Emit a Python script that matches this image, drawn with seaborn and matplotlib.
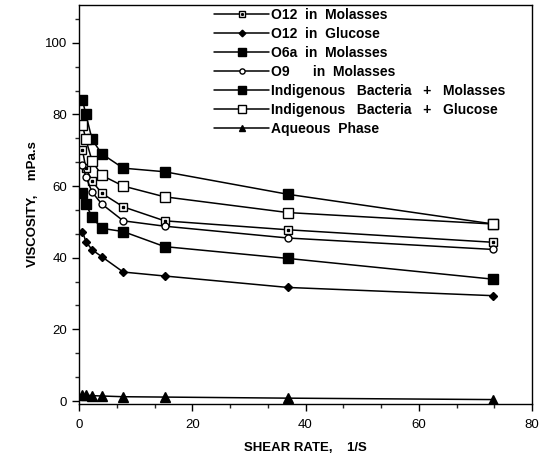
import numpy as np
import pandas as pd
import matplotlib
matplotlib.use("Agg")
import matplotlib.pyplot as plt
from matplotlib.ticker import MultipleLocator
from matplotlib.legend_handler import HandlerTuple
import seaborn as sns

# shear rate (1/S) and viscosity (mPa.s)
shear = [0.6, 1.2, 2.3, 4.0, 7.8, 15.1, 36.9, 73.2]

o12_molasses = [70.0, 65.0, 61.4, 58.0, 54.2, 50.3, 47.8, 44.3]
o12_glucose = [47.3, 44.5, 42.2, 40.3, 36.0, 34.9, 31.7, 29.4]
o6a_molasses = [58.2, 55.0, 51.3, 48.2, 47.3, 43.1, 39.8, 34.0]
o9_molasses = [66.0, 62.6, 58.3, 55.0, 50.3, 48.8, 45.5, 42.3]
indig_molasses = [84.0, 80.0, 73.0, 69.0, 65.0, 64.0, 57.7, 49.4]
indig_glucose = [77.0, 73.0, 67.0, 63.0, 60.0, 57.0, 52.6, 49.4]
aqueous = [1.8, 1.6, 1.5, 1.4, 1.2, 1.1, 0.8, 0.4]

labels = ["O12  in  Molasses", "O12  in  Glucose", "O6a  in  Molasses",
          "O9      in  Molasses", "Indigenous   Bacteria   +   Molasses",
          "Indigenous   Bacteria   +   Glucose", "Aqueous  Phase"]
series = [o12_molasses, o12_glucose, o6a_molasses, o9_molasses,
          indig_molasses, indig_glucose, aqueous]
styles = [dict(marker="s", ms=6, mfc="white"),
          dict(marker="D", ms=4.5, mfc="black"),
          dict(marker="s", ms=7, mfc="black"),
          dict(marker="o", ms=5, mfc="white"),
          dict(marker="s", ms=7, mfc="black"),
          dict(marker="s", ms=7, mfc="white"),
          dict(marker="^", ms=6.5, mfc="black")]

sns.set_style("ticks")
plt.rcParams['font.family'] = ['Liberation Sans', 'DejaVu Sans']
plt.rcParams['text.color'] = 'black'
plt.rcParams['axes.labelcolor'] = 'black'

fig = plt.figure(figsize=(5.53, 4.68), dpi=100)
ax = fig.add_axes([0.143, 0.137, 0.819, 0.852])

handles = []
for lab, vals, st in zip(labels, series, styles):
    df = pd.DataFrame({"shear": shear, "visc": vals})
    sns.lineplot(data=df, x="shear", y="visc", ax=ax, color="black", lw=1.1,
                 mec="black", mew=1.0, label=lab, **st)
    h = ax.get_lines()[-1]
    if lab.startswith("O12  in  Molasses"):
        ax.plot(shear, vals, ls="none", marker="s", ms=1.5, color="black")
        dot = ax.get_lines()[-1]
        handles.append((h, dot))
    else:
        handles.append(h)

ax.set_xlim(0, 80)
ax.set_ylim(-0.8, 110.5)
ax.xaxis.set_major_locator(MultipleLocator(20))
ax.xaxis.set_minor_locator(MultipleLocator(20 / 3))
ax.yaxis.set_major_locator(MultipleLocator(20))
ax.yaxis.set_minor_locator(MultipleLocator(20 / 3))
ax.tick_params(which="major", length=5, width=1, labelsize=9.5, colors="black")
ax.tick_params(which="minor", length=3, width=1)
ax.tick_params(axis="x", pad=6)
for sp in ax.spines.values():
    sp.set_linewidth(1.0)
    sp.set_color("black")

ax.set_xlabel("SHEAR RATE,    1/S", fontsize=9.5, fontweight="bold", labelpad=8)
ax.set_ylabel("VISCOSITY,    mPa.s", fontsize=9.5, fontweight="bold", labelpad=4)

ax.legend(handles=handles, labels=labels, loc="upper left",
          bbox_to_anchor=(0.27, 1.025), frameon=False,
          prop={"size": 10, "weight": "bold"},
          handlelength=4.0, handletextpad=0.1, labelspacing=0.36,
          markerscale=0.75,
          handler_map={tuple: HandlerTuple(ndivide=1)})

fig.savefig("out.png", dpi=100)
